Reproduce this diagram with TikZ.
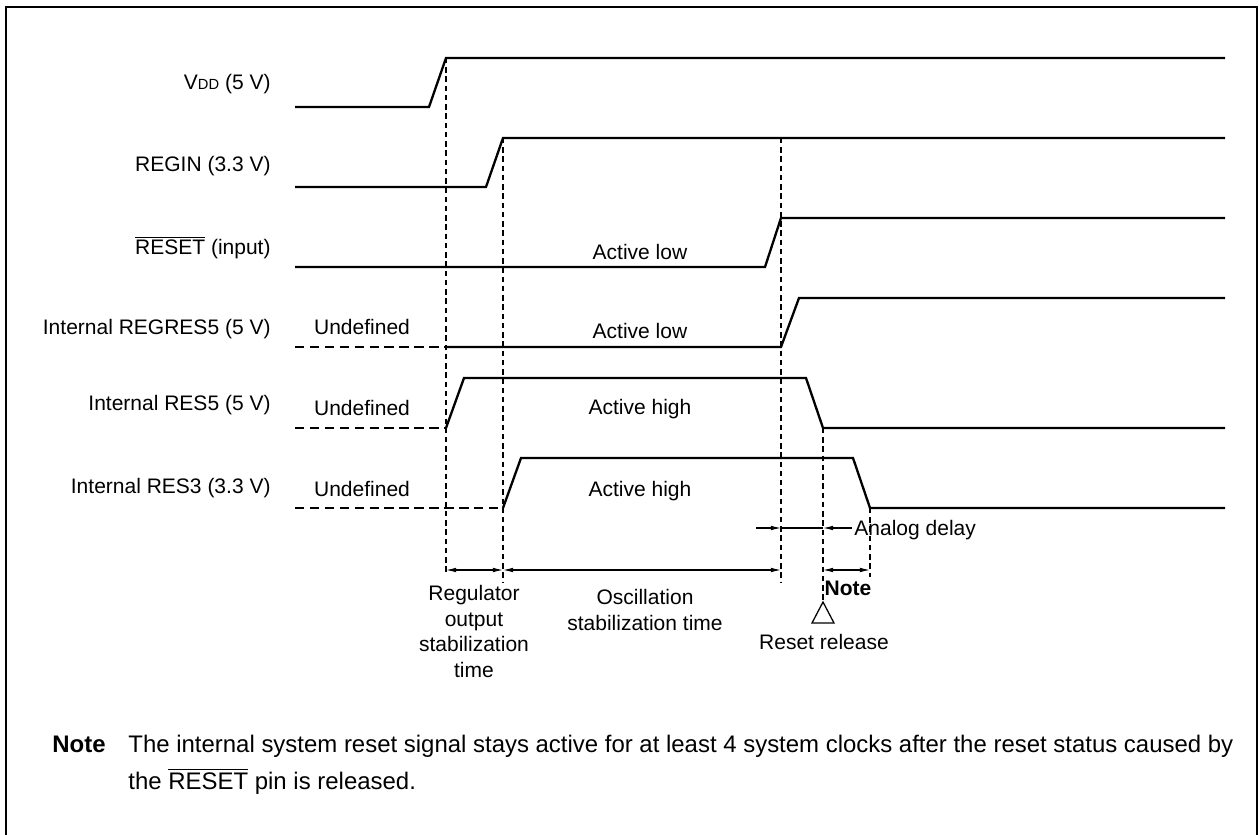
\documentclass[tikz,border=0pt]{standalone}
\usepackage{fontspec}
\setmainfont{Liberation Sans}
\usetikzlibrary{arrows.meta,positioning}

\begin{document}
\begin{tikzpicture}[x=0.476pt, y=-0.476pt, font=\fontsize{10}{12}\selectfont,
    sig/.style={line width=1.1pt, line join=miter},
    undef/.style={line width=1.1pt, dash pattern=on 4.5pt off 2.6pt},
    guide/.style={line width=0.5pt, dash pattern=on 2.6pt off 1.8pt},
    dim/.style={line width=0.5pt},
    tip/.style={-{Latex[length=4.8pt,width=2.2pt]}},
    tips/.style={{Latex[length=4.8pt,width=2.2pt]}-{Latex[length=4.8pt,width=2.2pt]}},
    lbl/.style={anchor=base east, inner sep=0pt},
    txt/.style={anchor=base, inner sep=0pt},
    notetxt/.style={anchor=base west, inner sep=0pt, font=\fontsize{11.4}{13.7}\selectfont}]
  \useasboundingbox (0,0) rectangle (1260,835);

  % Frame
  \draw[line width=1.1pt] (6,835) -- (6,7) -- (1257,7) -- (1257,835);

  % Signal names
  \node[lbl] (vdd)    at (271,89.5) {V{\fontsize{7}{8}\selectfont DD} (5 V)};
  \node[lbl] (regin)  at (271,172)  {REGIN (3.3 V)};
  \node[lbl] (reset)  at (271,255)  {$\overline{\hbox{RESET}}$ (input)};
  \node[lbl] (regres) at (271,335)  {Internal REGRES5 (5 V)};
  \node[lbl] (res5)   at (271,411)  {Internal RES5 (5 V)};
  \node[lbl] (res3)   at (271,494)  {Internal RES3 (3.3 V)};

  % Waveforms
  \draw[sig] (295,107) -- (429,107) -- (446,58) -- (1225,58);
  \draw[sig] (295,187) -- (486,187) -- (503,138) -- (1225,138);
  \draw[sig] (295,267) -- (765,267) -- (781,218) -- (1225,218);
  \draw[undef] (295,347) -- (446,347);
  \draw[sig] (446,347) -- (781,347) -- (799,298) -- (1225,298);
  \draw[undef] (295,428) -- (446,428);
  \draw[sig] (446,428) -- (464,378) -- (806,378) -- (823,428) -- (1225,428);
  \draw[undef] (295,508) -- (503,508);
  \draw[sig] (503,508) -- (521,458) -- (853,458) -- (870,508) -- (1225,508);

  % Level texts
  \node[txt] (und1) at (362,335) {Undefined};
  \node[txt] (und2) at (362,416) {Undefined};
  \node[txt] (und3) at (362,497) {Undefined};
  \node[txt] (act1) at (640,260) {Active low};
  \node[txt] (act2) at (640,339) {Active low};
  \node[txt] (act3) at (640,415) {Active high};
  \node[txt] (act4) at (640,497) {Active high};

  % Timing guides
  \draw[guide] (446,58) -- (446,574);
  \draw[guide] (503,138) -- (503,582);
  \draw[guide] (781,138) -- (781,582);
  \draw[guide] (823,428) -- (823,602);
  \draw[guide] (870,508) -- (870,577);

  % Analog delay
  \coordinate (a0) at (756,528);
  \coordinate (a1) at (781,528);
  \coordinate (a2) at (823,528);
  \coordinate (a3) at (852,528);
  \draw[dim, tip] (a0) -- (a1);
  \draw[dim] (a1) -- (a2);
  \draw[dim, tip] (a3) -- (a2);
  \node[anchor=base west, inner sep=0pt] (adly) at (854,535.5) {Analog delay};

  % Intervals
  \coordinate (d1) at (446,570);
  \coordinate (d2) at (503,570);
  \coordinate (d3) at (781,570);
  \coordinate (d4) at (823,570);
  \coordinate (d5) at (870,570);
  \draw[dim, tips] (d1) -- (d2);
  \draw[dim, tips] (d2) -- (d3);
  \draw[dim, tips] (d4) -- (d5);
  \node[anchor=north, align=center, inner sep=0pt, font=\fontsize{10}{12.2}\selectfont]
    (regtime) at (474,585) {Regulator\\output\\stabilization\\time};
  \node[anchor=north, align=center, inner sep=0pt, font=\fontsize{10}{12.2}\selectfont]
    (osctime) at (645,589) {Oscillation\\stabilization time};
  \node[inner sep=0pt, font=\bfseries] (notemk) at (848,588) {Note};

  % Reset release
  \draw[line width=0.6pt, fill=white] (823,602) -- (834,623) -- (812,623) -- cycle;
  \node[inner sep=0pt] (rrel) at (824,642) {Reset release};

  % Note
  \node[notetxt, font=\fontsize{11.4}{13.7}\selectfont\bfseries] (notehd) at (52,752.5) {Note};
  \node[notetxt] (note1) at (128,752.5)
    {The internal system reset signal stays active for at least 4 system clocks after the reset status caused by};
  \node[notetxt] (note2) at (128,789.5)
    {the $\overline{\hbox{RESET}}$ pin is released.};
\end{tikzpicture}
\end{document}
